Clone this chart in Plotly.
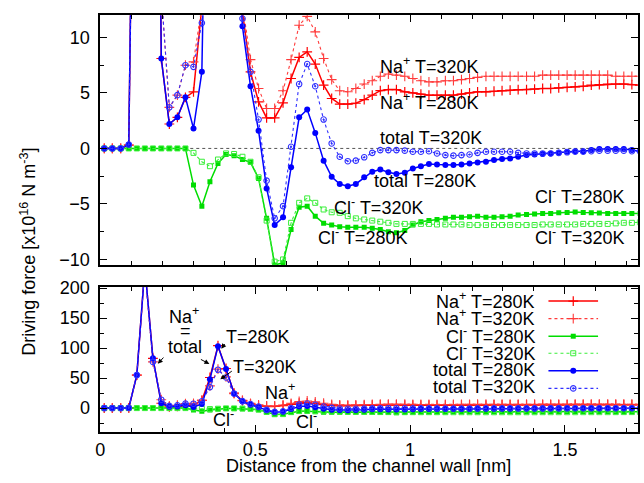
import plotly.graph_objects as go

W, H = 644, 483

# ---------------- data ----------------
distance_nm = [0.013, 0.039, 0.066, 0.092, 0.118, 0.144, 0.170, 0.197, 0.223, 0.249,
               0.275, 0.301, 0.328, 0.354, 0.380, 0.406, 0.432, 0.459, 0.485, 0.511,
               0.537, 0.563, 0.590, 0.616, 0.642, 0.668, 0.694, 0.721, 0.747, 0.773,
               0.799, 0.825, 0.852, 0.878, 0.904, 0.930, 0.956, 0.983, 1.009, 1.035,
               1.061, 1.087, 1.114, 1.140, 1.166, 1.192, 1.218, 1.245, 1.271, 1.297,
               1.323, 1.349, 1.376, 1.402, 1.428, 1.454, 1.480, 1.507, 1.533, 1.559,
               1.585, 1.611, 1.638, 1.664, 1.690, 1.716, 1.742]

na_280 = [0, 0, 0, 0.3, 55, 235, 83, 8.1, 2.2, 2.8,
          4.6, 5.1, 12.8, 51, 104, 66, 25, 12.3, 6.9, 4.2,
          2.75, 2.75, 4.1, 6.3, 8.2, 8.7, 7.6, 5.7, 4.5, 4.0,
          4.0, 4.07, 4.4, 4.8, 5.2, 5.3, 5.3, 5.1, 5.0, 4.9,
          4.8, 4.8, 4.8, 4.8, 4.9, 5.0, 5.1, 5.1, 5.15, 5.2,
          5.25, 5.3, 5.3, 5.35, 5.4, 5.4, 5.45, 5.5, 5.55, 5.6,
          5.7, 5.75, 5.8, 5.8, 5.8, 5.75, 5.7]

na_320 = [0, 0, 0, 0.3, 55, 232, 77, 14, 3.7, 4.8,
          7.5, 7.8, 12.8, 37, 65, 52, 24, 13, 8.0, 5.4,
          3.6, 3.6, 5.2, 8.0, 11.1, 11.9, 10.5, 8.1, 6.2, 5.2,
          5.1, 5.4, 5.8, 6.1, 6.5, 6.7, 6.6, 6.5, 6.3, 6.1,
          6.0, 6.0, 6.1, 6.1, 6.2, 6.3, 6.4, 6.5, 6.5, 6.5,
          6.5, 6.5, 6.5, 6.5, 6.6, 6.6, 6.6, 6.6, 6.6, 6.6,
          6.6, 6.6, 6.6, 6.5, 6.5, 6.5, 6.5]

cl_280 = [0, 0, 0, 0, 0, 0, 0, 0, 0, 0,
          0, -3.3, -5.2, -3.0, -1.35, -0.55, -0.65, -1.0, -1.25, -2.7,
          -6.3, -10.5, -10.3, -7.3, -5.3, -5.2, -6.1, -6.75, -6.9, -7.05,
          -7.1, -7.1, -7.1, -7.2, -7.3, -7.5, -7.6, -7.4, -6.9, -6.6,
          -6.5, -6.4, -6.3, -6.2, -6.2, -6.15, -6.1, -6.2, -6.2, -6.15,
          -6.1, -6.0, -5.96, -5.9, -5.87, -5.85, -5.8, -5.78, -5.72, -5.78,
          -5.8, -5.82, -5.85, -5.87, -5.87, -5.87, -5.87]

cl_320 = [0, 0, 0, 0, 0, 0, 0, 0, 0, 0,
          0, -0.4, -1.2, -1.6, -1.0, -0.45, -0.5, -0.75, -1.2, -2.6,
          -6.5, -10.2, -10.0, -6.7, -4.9, -4.5, -4.9, -5.5, -5.75, -5.8,
          -6.1, -6.3, -6.4, -6.5, -6.6, -6.7, -6.8, -6.8, -6.8, -6.8,
          -6.8, -6.85, -6.85, -6.85, -6.85, -6.9, -6.9, -6.9, -6.9, -6.9,
          -6.9, -6.9, -6.9, -6.9, -6.85, -6.85, -6.85, -6.85, -6.85, -6.8,
          -6.8, -6.8, -6.8, -6.75, -6.7, -6.7, -6.65]

total_280 = [0, 0, 0, 0.35, 55, 235, 83, 8.1, 2.2, 2.8,
             4.6, 1.8, 6.9, 48, 103, 65, 24.5, 11.0, 5.6, 1.6,
             -3.6, -6.9, -6.2, -1.7, 2.8, 3.5, 1.4, -1.1, -2.55, -3.2,
             -3.4, -3.2, -2.6, -2.1, -1.9, -2.15, -2.3, -2.2, -1.8, -1.6,
             -1.4, -1.45, -1.5, -1.5, -1.45, -1.35, -1.27, -1.2, -1.05, -0.96,
             -0.9, -0.75, -0.6, -0.54, -0.5, -0.45, -0.4, -0.3, -0.25, -0.25,
             -0.15, -0.06, -0.06, -0.06, -0.06, -0.15, -0.25]

total_320 = [0, 0, 0, 0.35, 55, 232, 77, 14, 3.7, 4.8,
             7.5, 7.35, 11.3, 35, 64, 51, 24, 11.7, 6.9, 2.6,
             -2.9, -6.3, -5.2, 0.15, 5.8, 7.6, 5.6, 2.6, 0.45, -0.75,
             -1.15, -1.1, -0.8, -0.4, -0.15, -0.15, -0.15, -0.2, -0.3, -0.3,
             -0.25, -0.45, -0.6, -0.65, -0.6, -0.55, -0.4, -0.3, -0.3, -0.3,
             -0.3, -0.4, -0.45, -0.45, -0.45, -0.45, -0.4, -0.35, -0.3, -0.3,
             -0.25, -0.2, -0.2, -0.2, -0.2, -0.25, -0.25]

series_names = ["Na<sup>+</sup> T=280K", "Na<sup>+</sup> T=320K",
                "Cl<sup>-</sup> T=280K", "Cl<sup>-</sup> T=320K",
                "total T=280K", "total T=320K"]
series_values = [na_280, na_320, cl_280, cl_320, total_280, total_320]

top_yticks = [-10, -5, 0, 5, 10]
bottom_yticks = [0, 50, 100, 150, 200]
x_ticks = [0, 0.5, 1, 1.5]
x_ticklabels = ["0", "0.5", "1", "1.5"]

# ---------------- styles ----------------
FONT = "Liberation Sans, Arial, Helvetica, sans-serif"
RED, GREEN, BLUE = "#ff0000", "#00dd00", "#0000ff"
RED2, GREEN2, BLUE2 = "#ff3a3a", "#3aee3a", "#3030ff"
styles = [
    dict(line=dict(color=RED, width=1.5), marker=dict(symbol="cross-thin", size=7, line=dict(color=RED, width=1.2))),
    dict(line=dict(color=RED2, width=1.1, dash="dot"), marker=dict(symbol="cross-thin", size=7, line=dict(color=RED2, width=1.1))),
    dict(line=dict(color=GREEN, width=1.5), marker=dict(symbol="square", size=5, color=GREEN)),
    dict(line=dict(color=GREEN2, width=1.1, dash="dot"), marker=dict(symbol="square-open", size=5, color=GREEN2, line=dict(width=1))),
    dict(line=dict(color=BLUE, width=1.5), marker=dict(symbol="circle", size=6, color=BLUE)),
    dict(line=dict(color=BLUE2, width=1.1, dash="dot"), marker=dict(symbol="circle-open-dot", size=5.5, color=BLUE2, line=dict(width=1.1))),
]

# vertical placement helper (compensates the page's vertical rendering offset)
def Y(y):
    return (y - 7.8) / 0.968

fig = go.Figure()
for ax in [("x", "y"), ("x2", "y2")]:
    for vals, st in zip(series_values, styles):
        fig.add_trace(go.Scatter(x=distance_nm, y=vals, mode="lines+markers",
                                 xaxis=ax[0], yaxis=ax[1], showlegend=False,
                                 cliponaxis=True, **st))

# manual legend (pixel axis overlay)
leg_rows = [299, 316.5, 334, 351, 368.5, 386]
for name, st, ry in zip(series_names, styles, leg_rows):
    fig.add_trace(go.Scatter(x=[547.7, 597.7], y=[Y(ry), Y(ry)], mode="lines", line=st["line"],
                             xaxis="x3", yaxis="y3", showlegend=False, hoverinfo="skip"))
    fig.add_trace(go.Scatter(x=[572.7], y=[Y(ry)], mode="markers", marker=st["marker"],
                             xaxis="x3", yaxis="y3", showlegend=False, hoverinfo="skip"))

def px(x, y):
    return x / W, 1 - Y(y) / H

left, right = 96, 637.7
top_t, top_b = 14, 263
bot_t, bot_b = 285, 429

axis_common = dict(showline=True, linecolor="black", linewidth=1.5, mirror="allticks",
                   ticks="inside", tickcolor="black", tickwidth=1.2, showgrid=False,
                   zeroline=False, tickfont=dict(family=FONT, size=18, color="black"))

layout = dict(
    width=W, height=H, margin=dict(l=0, r=0, t=0, b=0),
    paper_bgcolor="white", plot_bgcolor="rgba(0,0,0,0)", showlegend=False,
    xaxis=dict(domain=[left / W, right / W], range=[0, 1.735], anchor="y",
               tickvals=x_ticks, showticklabels=False, ticklen=7,
               minor=dict(dtick=0.1, tick0=0, ticks="inside", ticklen=4, tickcolor="black", tickwidth=1),
               **axis_common),
    yaxis=dict(domain=[1 - Y(top_b) / H, 1 - Y(top_t) / H], range=[-10.5, 12], anchor="x",
               tickvals=top_yticks, ticklen=7, ticklabelstandoff=5,
               minor=dict(dtick=2.5, tick0=0, ticks="inside", ticklen=4, tickcolor="black", tickwidth=1),
               **axis_common),
    xaxis2=dict(domain=[left / W, right / W], range=[0, 1.735], anchor="y2",
                tickvals=x_ticks, ticktext=x_ticklabels, ticklen=7, ticklabelstandoff=1,
                minor=dict(dtick=0.1, tick0=0, ticks="inside", ticklen=4, tickcolor="black", tickwidth=1),
                **axis_common),
    yaxis2=dict(domain=[1 - Y(bot_b) / H, 1 - Y(bot_t) / H], range=[-39, 201.7], anchor="x2",
                tickvals=bottom_yticks, ticklen=7, ticklabelstandoff=5,
                minor=dict(dtick=25, tick0=0, ticks="inside", ticklen=4, tickcolor="black", tickwidth=1),
                **axis_common),
    xaxis3=dict(domain=[0, 1], range=[0, W], visible=False, anchor="y3", fixedrange=True),
    yaxis3=dict(domain=[0, 1], range=[H, 0], visible=False, anchor="x3", fixedrange=True),
)
fig.update_layout(**layout)

# zero axis in top panel
fig.add_shape(type="line", xref="x", yref="y", x0=0, x1=1.735, y0=0, y1=0,
              line=dict(color="#555555", width=1, dash="dot"), layer="below")

def text(t, x, y, xanchor="center", size=18, angle=0):
    xx, yy = px(x, y)
    fig.add_annotation(text=t, x=xx, y=yy, xref="paper", yref="paper", showarrow=False,
                       xanchor=xanchor, yanchor="middle", textangle=angle,
                       font=dict(family=FONT, size=size, color="black"))

# top panel labels
text("Na<sup>+</sup> T=320K", 376, 64, "left")
text("Na<sup>+</sup> T=280K", 376, 100, "left")
text("total T=320K", 376, 136, "left")
text("total T=280K", 370, 179, "left")
text("Cl<sup>-</sup> T=320K", 330, 205, "left")
text("Cl<sup>-</sup> T=280K", 313, 235, "left")
text("Cl<sup>-</sup> T=280K", 532, 194, "left")
text("Cl<sup>-</sup> T=320K", 532, 235, "left")

# bottom panel labels
text("Na<sup>+</sup>", 180, 313)
text("=", 182, 329)
text("total", 181, 345)
text("T=280K", 255, 335)
text("T=320K", 262, 365)
text("Na<sup>+</sup>", 277, 389)
text("Cl<sup>-</sup>", 220, 416)
text("Cl<sup>-</sup>", 304, 418)

# legend texts
for name, ry in zip(series_names, leg_rows):
    text(name, 536, ry - 1, "right")

# axis titles
fig.add_annotation(text="Distance from the channel wall [nm]", x=366 / W, y=0,
                   xref="paper", yref="paper", showarrow=False, xanchor="center",
                   yanchor="bottom", font=dict(family=FONT, size=18, color="black"))
text("Driving force [x10<sup>16</sup> N m<sup>-3</sup>]", 24, 250, angle=-90)

# arrows (head, tail) in pixels
arrows = [((154, 361.5), (161, 354)), ((206, 361.7), (196, 356.5)),
          ((218, 346.5), (222.5, 340.5)), ((217, 377), (230, 368))]
for (hx, hy), (tx, ty) in arrows:
    xx, yy = px(hx, hy)
    fig.add_annotation(x=xx, y=yy, xref="paper", yref="paper", text="", showarrow=True,
                       ax=tx - hx, ay=(ty - hy) / 0.968, arrowhead=2, arrowsize=1, arrowwidth=1,
                       arrowcolor="black")

fig.write_html("out.html")
